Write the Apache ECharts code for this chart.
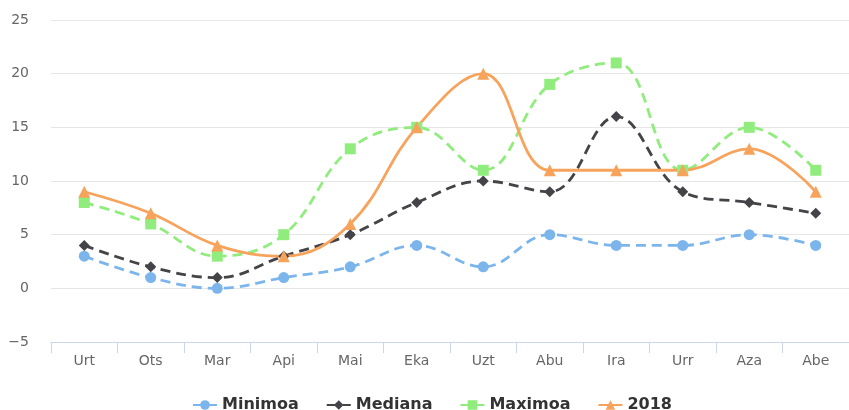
<!DOCTYPE html>
<html>
<head>
<meta charset="utf-8">
<script src="https://cdn.jsdelivr.net/npm/echarts@6/dist/echarts.min.js"></script>
<style>
  html, body { margin: 0; padding: 0; background: #fff; }
  #chart { width: 849px; height: 410px; }
</style>
</head>
<body>
<div id="chart"></div>
<script>
// hilabeteak
var months = ['Urt', 'Ots', 'Mar', 'Api', 'Mai', 'Eka', 'Uzt', 'Abu', 'Ira', 'Urr', 'Aza', 'Abe'];
var minimoa = [3, 1, 0, 1, 2, 4, 2, 5, 4, 4, 5, 4];
var mediana = [4, 2, 1, 3, 5, 8, 10, 9, 16, 9, 8, 7];
var maximoa = [8, 6, 3, 5, 13, 15, 11, 19, 21, 11, 15, 11];
var urtea2018 = [9, 7, 4, 3, 6, 15, 20, 11, 11, 11, 13, 9];

var chart = echarts.init(document.getElementById('chart'));

function mkSeries(name, data, color, symbol, size, dashed) {
    return {
        name: name,
        type: 'line',
        smooth: 0.4,
        symbol: symbol,
        symbolSize: size,
        data: data,
        itemStyle: { color: color },
        lineStyle: { color: color, width: 2.8, type: dashed ? [10, 6] : 'solid' },
        emphasis: { disabled: true }
    };
}

var option = {
    animation: false,
    color: ['#7cb5ec', '#434348', '#90ed7d', '#f7a35c'],
    grid: { left: 51, right: 0, top: 20, bottom: 68 },
    legend: {
        top: 392,
        left: 187,
        itemGap: 27,
        itemWidth: 24,
        itemHeight: 12,
        textStyle: { fontSize: 16, fontWeight: 'bold', color: '#333', fontFamily: 'DejaVu Sans' },
        data: ['Minimoa', 'Mediana', 'Maximoa', '2018']
    },
    xAxis: {
        type: 'category',
        data: months,
        boundaryGap: true,
        axisLine: { onZero: false, lineStyle: { color: '#ccd6eb', width: 1 } },
        axisTick: { show: true, length: 11, lineStyle: { color: '#ccd6eb' } },
        axisLabel: { color: '#666', fontSize: 14, margin: 12, fontFamily: 'DejaVu Sans' },
        splitLine: { show: false }
    },
    yAxis: {
        type: 'value',
        min: -5,
        max: 25,
        interval: 5,
        axisLine: { show: false },
        axisTick: { show: false },
        axisLabel: {
            color: '#666', fontSize: 14, margin: 22, fontFamily: 'DejaVu Sans',
            formatter: function (v) { return String(v).replace('-', '\u2212'); }
        },
        splitLine: { lineStyle: { color: '#e6e6e6', width: 1 } }
    },
    series: [
        mkSeries('Minimoa', minimoa, '#7cb5ec', 'circle', 11, true),
        mkSeries('Mediana', mediana, '#434348', 'diamond', 11, true),
        mkSeries('Maximoa', maximoa, '#90ed7d', 'rect', 11, true),
        mkSeries('2018', urtea2018, '#f7a35c', 'triangle', 12, false)
    ]
};
chart.setOption(option);
</script>
</body>
</html>
